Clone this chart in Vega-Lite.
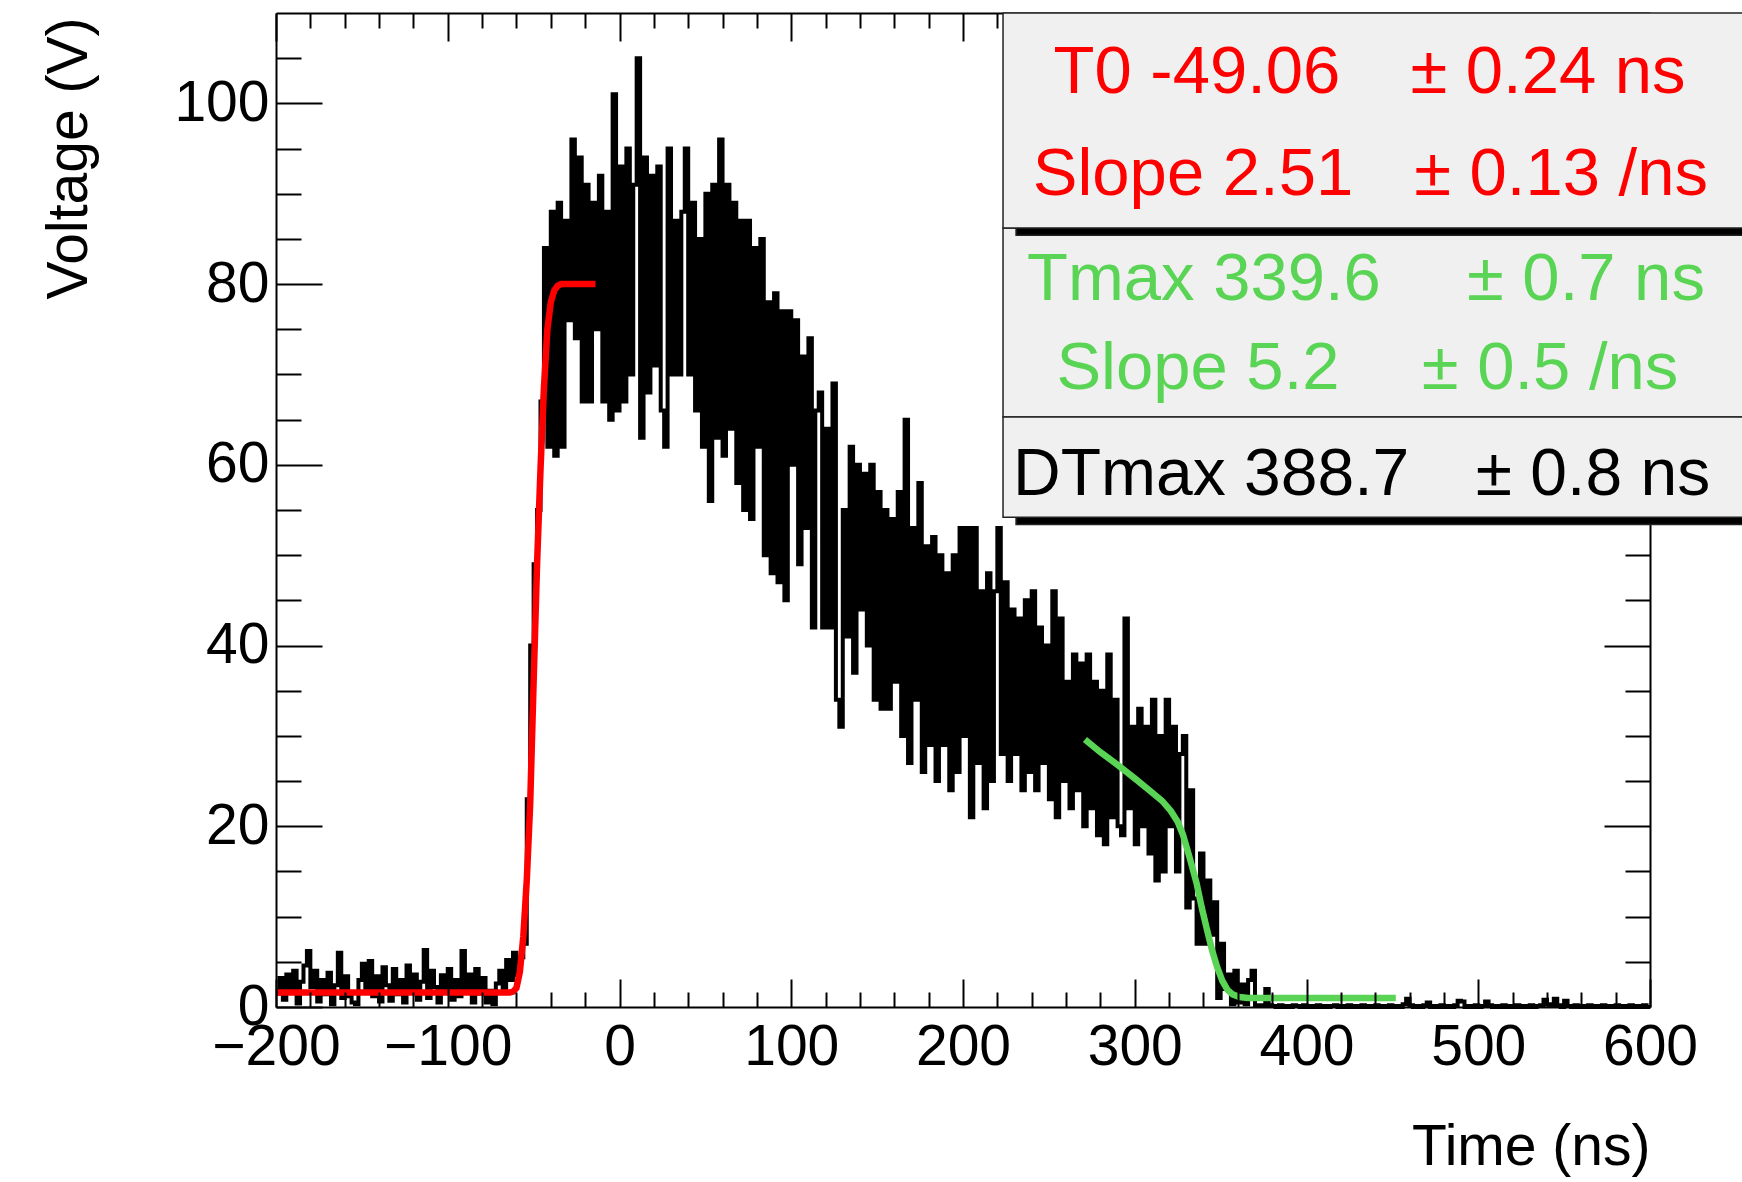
{
  "$schema": "https://vega.github.io/schema/vega-lite/v6.json",
  "width": 1374,
  "height": 994,
  "autosize": {"type": "none"},
  "padding": {"left": 276, "top": 13, "right": 92, "bottom": 175},
  "background": "white",
  "config": {"view": {"stroke": null}, "font": "Liberation Sans"},
  "datasets": {
    "wave": [
      {"t":-200,"v":1.5},{"t":-198,"v":3.2},{"t":-196,"v":0.8},{"t":-194,"v":3.6},{"t":-192,"v":2.0},{"t":-190,"v":4.0},{"t":-188,"v":0.4},{"t":-186,"v":2.8},{"t":-184,"v":4.6},{"t":-182,"v":6.2},
      {"t":-180,"v":2.2},{"t":-178,"v":4.0},{"t":-176,"v":0.6},{"t":-174,"v":3.0},{"t":-172,"v":1.4},{"t":-170,"v":3.8},{"t":-168,"v":0.3},{"t":-166,"v":2.4},{"t":-164,"v":6.0},{"t":-162,"v":1.0},
      {"t":-160,"v":3.4},{"t":-158,"v":1.2},{"t":-156,"v":0.5},{"t":-154,"v":0.3},{"t":-152,"v":3.0},{"t":-150,"v":4.8},{"t":-148,"v":1.8},{"t":-146,"v":5.1},{"t":-144,"v":1.2},{"t":-142,"v":3.4},
      {"t":-140,"v":0.6},{"t":-138,"v":4.4},{"t":-136,"v":2.4},{"t":-134,"v":0.7},{"t":-132,"v":4.2},{"t":-130,"v":1.4},{"t":-128,"v":3.0},{"t":-126,"v":0.5},{"t":-124,"v":4.6},{"t":-122,"v":2.0},
      {"t":-120,"v":3.6},{"t":-118,"v":0.8},{"t":-116,"v":2.8},{"t":-114,"v":6.3},{"t":-112,"v":1.0},{"t":-110,"v":4.0},{"t":-108,"v":2.2},{"t":-106,"v":0.5},{"t":-104,"v":3.5},{"t":-102,"v":1.6},
      {"t":-100,"v":4.2},{"t":-98,"v":0.8},{"t":-96,"v":3.0},{"t":-94,"v":1.2},{"t":-92,"v":6.2},{"t":-90,"v":2.0},{"t":-88,"v":3.6},{"t":-86,"v":0.5},{"t":-84,"v":4.2},{"t":-82,"v":1.5},
      {"t":-80,"v":3.2},{"t":-78,"v":0.5},{"t":-76,"v":1.8},{"t":-74,"v":0.3},{"t":-72,"v":2.6},{"t":-70,"v":4.0},{"t":-68,"v":2.0},{"t":-66,"v":5.2},{"t":-64,"v":3.0},{"t":-62,"v":6.0},
      {"t":-60,"v":3.5},{"t":-58,"v":5.5},{"t":-56,"v":7.0},{"t":-54,"v":23},{"t":-52,"v":40},{"t":-50,"v":49},{"t":-48,"v":55},{"t":-46,"v":67},{"t":-44,"v":84},{"t":-42,"v":62},
      {"t":-40,"v":88},{"t":-38,"v":61},{"t":-36,"v":89},{"t":-34,"v":62},{"t":-32,"v":87},{"t":-30,"v":76},{"t":-28,"v":96},{"t":-26,"v":74},{"t":-24,"v":94},{"t":-22,"v":67},
      {"t":-20,"v":91},{"t":-18,"v":67},{"t":-16,"v":89},{"t":-14,"v":75},{"t":-12,"v":92},{"t":-10,"v":67},{"t":-8,"v":88},{"t":-6,"v":65},{"t":-4,"v":101},{"t":-2,"v":66},
      {"t":0,"v":93},{"t":2,"v":67},{"t":4,"v":95},{"t":6,"v":70},{"t":8,"v":91},{"t":10,"v":105},{"t":12,"v":63},{"t":14,"v":94},{"t":16,"v":68},{"t":18,"v":92},
      {"t":20,"v":71},{"t":22,"v":93},{"t":24,"v":66},{"t":26,"v":62},{"t":28,"v":95},{"t":30,"v":70},{"t":32,"v":87},{"t":34,"v":70},{"t":36,"v":88},{"t":38,"v":95},
      {"t":40,"v":70},{"t":42,"v":89},{"t":44,"v":66},{"t":46,"v":85},{"t":48,"v":62},{"t":50,"v":90},{"t":52,"v":56},{"t":54,"v":91},{"t":56,"v":63},{"t":58,"v":96},
      {"t":60,"v":61},{"t":62,"v":91},{"t":64,"v":64},{"t":66,"v":89},{"t":68,"v":58},{"t":70,"v":87},{"t":72,"v":55},{"t":74,"v":87},{"t":76,"v":54},{"t":78,"v":84},
      {"t":80,"v":62},{"t":82,"v":85},{"t":84,"v":50},{"t":86,"v":78},{"t":88,"v":48},{"t":90,"v":79},{"t":92,"v":47},{"t":94,"v":77},{"t":96,"v":45},{"t":98,"v":77},
      {"t":100,"v":60},{"t":102,"v":76},{"t":104,"v":49},{"t":106,"v":72},{"t":108,"v":53},{"t":110,"v":74},{"t":112,"v":42},{"t":114,"v":66},{"t":116,"v":68},{"t":118,"v":42},
      {"t":120,"v":64},{"t":122,"v":42},{"t":124,"v":69},{"t":126,"v":34},{"t":128,"v":31},{"t":130,"v":55},{"t":132,"v":41},{"t":134,"v":62},{"t":136,"v":37},{"t":138,"v":60},
      {"t":140,"v":44},{"t":142,"v":59},{"t":144,"v":40},{"t":146,"v":60},{"t":148,"v":34},{"t":150,"v":57},{"t":152,"v":33},{"t":154,"v":55},{"t":156,"v":33},{"t":158,"v":54},
      {"t":160,"v":36},{"t":162,"v":57},{"t":164,"v":30},{"t":166,"v":65},{"t":168,"v":27},{"t":170,"v":53},{"t":172,"v":34},{"t":174,"v":58},{"t":176,"v":26},{"t":178,"v":51},
      {"t":180,"v":29},{"t":182,"v":52},{"t":184,"v":25},{"t":186,"v":50},{"t":188,"v":29},{"t":190,"v":48},{"t":192,"v":24},{"t":194,"v":50},{"t":196,"v":26},{"t":198,"v":53},
      {"t":200,"v":30},{"t":202,"v":53},{"t":204,"v":21},{"t":206,"v":53},{"t":208,"v":27},{"t":210,"v":46},{"t":212,"v":22},{"t":214,"v":48},{"t":216,"v":25},{"t":218,"v":46},
      {"t":220,"v":53},{"t":222,"v":28},{"t":224,"v":47},{"t":226,"v":25},{"t":228,"v":44},{"t":230,"v":28},{"t":232,"v":43},{"t":234,"v":24},{"t":236,"v":45},{"t":238,"v":26},
      {"t":240,"v":46},{"t":242,"v":24},{"t":244,"v":42},{"t":246,"v":27},{"t":248,"v":40},{"t":250,"v":23},{"t":252,"v":46},{"t":254,"v":21},{"t":256,"v":43},{"t":258,"v":25},
      {"t":260,"v":36},{"t":262,"v":22},{"t":264,"v":39},{"t":266,"v":24},{"t":268,"v":38},{"t":270,"v":20},{"t":272,"v":39},{"t":274,"v":22},{"t":276,"v":36},{"t":278,"v":19},
      {"t":280,"v":35},{"t":282,"v":18},{"t":284,"v":39},{"t":286,"v":21},{"t":288,"v":34},{"t":290,"v":20},{"t":292,"v":19},{"t":294,"v":43},{"t":296,"v":22},{"t":298,"v":31},
      {"t":300,"v":18},{"t":302,"v":33},{"t":304,"v":20},{"t":306,"v":31},{"t":308,"v":17},{"t":310,"v":34},{"t":312,"v":14},{"t":314,"v":30},{"t":316,"v":15},{"t":318,"v":34},
      {"t":320,"v":20},{"t":322,"v":31},{"t":324,"v":15},{"t":326,"v":28},{"t":328,"v":30},{"t":330,"v":11},{"t":332,"v":24},{"t":334,"v":12},{"t":336,"v":7},{"t":338,"v":17},
      {"t":340,"v":7},{"t":342,"v":14},{"t":344,"v":8},{"t":346,"v":11.6},{"t":348,"v":1},{"t":350,"v":7},{"t":352,"v":2},{"t":354,"v":3.6},{"t":356,"v":0.3},{"t":358,"v":4},
      {"t":360,"v":0.5},{"t":362,"v":2.5},{"t":364,"v":0.3},{"t":366,"v":3},{"t":368,"v":4},{"t":370,"v":0.2},{"t":372,"v":0.1},{"t":374,"v":0.2},{"t":376,"v":2},{"t":378,"v":0.2},
      {"t":380,"v":0.1},{"t":382,"v":0},{"t":384,"v":0.2},{"t":386,"v":0},{"t":388,"v":0.1},{"t":390,"v":0},{"t":392,"v":0.2},{"t":394,"v":0.1},{"t":396,"v":0},{"t":398,"v":0.2},
      {"t":400,"v":0},{"t":402,"v":0.1},{"t":404,"v":0},{"t":406,"v":0.2},{"t":408,"v":0},{"t":410,"v":0.1},{"t":412,"v":0},{"t":414,"v":0.1},{"t":416,"v":0.2},{"t":418,"v":0},
      {"t":420,"v":0.1},{"t":422,"v":0},{"t":424,"v":0.2},{"t":426,"v":0},{"t":428,"v":0.1},{"t":430,"v":0},{"t":432,"v":0.2},{"t":434,"v":0},{"t":436,"v":0.1},{"t":438,"v":0},
      {"t":440,"v":0.2},{"t":442,"v":0},{"t":444,"v":0.1},{"t":446,"v":0},{"t":448,"v":0.2},{"t":450,"v":0},{"t":452,"v":0.1},{"t":454,"v":0},{"t":456,"v":0.3},{"t":458,"v":0.9},
      {"t":460,"v":0.2},{"t":462,"v":0},{"t":464,"v":0.1},{"t":466,"v":0},{"t":468,"v":0.2},{"t":470,"v":0.5},{"t":472,"v":0},{"t":474,"v":0.1},{"t":476,"v":0},{"t":478,"v":0.2},
      {"t":480,"v":0},{"t":482,"v":0.1},{"t":484,"v":0},{"t":486,"v":0.2},{"t":488,"v":0.7},{"t":490,"v":0.6},{"t":492,"v":0},{"t":494,"v":0.1},{"t":496,"v":0},{"t":498,"v":0.2},
      {"t":500,"v":0},{"t":502,"v":0.1},{"t":504,"v":0.6},{"t":506,"v":0.2},{"t":508,"v":0},{"t":510,"v":0.1},{"t":512,"v":0},{"t":514,"v":0.2},{"t":516,"v":0},{"t":518,"v":0.1},
      {"t":520,"v":0},{"t":522,"v":0.2},{"t":524,"v":0},{"t":526,"v":0.1},{"t":528,"v":0},{"t":530,"v":0.2},{"t":532,"v":0},{"t":534,"v":0.1},{"t":536,"v":0.2},{"t":538,"v":0.8},
      {"t":540,"v":0.3},{"t":542,"v":0.1},{"t":544,"v":0.9},{"t":546,"v":0.2},{"t":548,"v":0},{"t":550,"v":0.7},{"t":552,"v":0.1},{"t":554,"v":0},{"t":556,"v":0.2},{"t":558,"v":0},
      {"t":560,"v":0.1},{"t":562,"v":0},{"t":564,"v":0.2},{"t":566,"v":0},{"t":568,"v":0.1},{"t":570,"v":0},{"t":572,"v":0.2},{"t":574,"v":0},{"t":576,"v":0.1},{"t":578,"v":0},
      {"t":580,"v":0.2},{"t":582,"v":0},{"t":584,"v":0.1},{"t":586,"v":0},{"t":588,"v":0.2},{"t":590,"v":0},{"t":592,"v":0.1},{"t":594,"v":0},{"t":596,"v":0.2},{"t":598,"v":0},{"t":600,"v":0}
    ],
    "fitr": [
      {"t":-200,"v":1.6},{"t":-64,"v":1.6},{"t":-62,"v":1.7},{"t":-60,"v":2.1},{"t":-58,"v":3.9},{"t":-56,"v":7.8},{"t":-54,"v":14},{"t":-52,"v":22.5},{"t":-50,"v":36},{"t":-48,"v":49},{"t":-46,"v":59.5},{"t":-44,"v":68.5},{"t":-42,"v":75},{"t":-40,"v":78},{"t":-38,"v":79.3},{"t":-36,"v":79.8},{"t":-34,"v":80},{"t":-14,"v":80}
    ],
    "fitg": [
      {"t":271,"v":29.6},{"t":280,"v":28.2},{"t":290,"v":26.8},{"t":300,"v":25.3},{"t":309,"v":23.9},{"t":316,"v":22.8},{"t":321,"v":21.7},{"t":325,"v":20.5},{"t":328,"v":19.1},{"t":332,"v":16.5},{"t":336,"v":13.7},{"t":339,"v":11},{"t":342,"v":8.6},{"t":345,"v":6.3},{"t":348,"v":4.4},{"t":351,"v":2.9},{"t":354,"v":1.9},{"t":357,"v":1.4},{"t":361,"v":1.1},{"t":366,"v":1.0},{"t":452,"v":1.0}
    ],
    "boxes": [
      {"part":"box","t1":223.3,"t2":664,"v1":86.2,"v2":65.3},
      {"part":"shadow","t1":230.9,"t2":672,"v1":109.2,"v2":85.4},
      {"part":"box","t1":223.3,"t2":664,"v1":110,"v2":86.2},
      {"part":"shadow","t1":230.9,"t2":672,"v1":64.5,"v2":53.4},
      {"part":"box","t1":223.3,"t2":664,"v1":65.3,"v2":54.2}
    ],
    "texts": [
      {"txt":"T0 -49.06","t":336.2,"v":101.1,"grp":"r"},
      {"txt":"± 0.24 ns","t":540.6,"v":101.1,"grp":"r"},
      {"txt":"Slope 2.51","t":333.9,"v":89.9,"grp":"r"},
      {"txt":"± 0.13 /ns","t":548.2,"v":89.9,"grp":"r"},
      {"txt":"Tmax 339.6","t":340.3,"v":78.2,"grp":"g"},
      {"txt":"± 0.7 ns","t":562.7,"v":78.2,"grp":"g"},
      {"txt":"Slope 5.2","t":336.8,"v":68.4,"grp":"g"},
      {"txt":"± 0.5 /ns","t":541.8,"v":68.4,"grp":"g"},
      {"txt":"DTmax 388.7","t":344.5,"v":56.7,"grp":"k"},
      {"txt":"± 0.8 ns","t":566.8,"v":56.7,"grp":"k"}
    ]
  },
  "layer": [
    {
      "data": {"name": "wave"},
      "mark": {"type": "line", "interpolate": "step-after", "color": "black", "strokeWidth": 4},
      "encoding": {
        "x": {
          "field": "t", "type": "quantitative",
          "scale": {"domain": [-200, 600], "nice": false, "zero": false},
          "axis": {
            "orient": "bottom", "zindex": 1,
            "values": [-200,-180,-160,-140,-120,-100,-80,-60,-40,-20,0,20,40,60,80,100,120,140,160,180,200,220,240,260,280,300,320,340,360,380,400,420,440,460,480,500,520,540,560,580,600],
            "labelExpr": "datum.value % 100 === 0 ? datum.label : ''",
            "labelFont": "Liberation Sans", "labelFontSize": 57, "labelColor": "black",
            "labelPadding": 40, "labelFlush": false, "labelOverlap": false, "labelBound": false,
            "tickSize": {"condition": {"test": "datum.value % 100 === 0", "value": -28}, "value": -15},
            "tickColor": "black", "tickWidth": 2,
            "domainColor": "black", "domainWidth": 2, "grid": false,
            "title": "Time (ns)", "titleFont": "Liberation Sans", "titleFontSize": 57, "titleFontWeight": "normal", "titleColor": "black",
            "titleAlign": "right", "titleAnchor": "end", "titleBaseline": "alphabetic", "titleX": 1374, "titleY": 157
          }
        },
        "y": {
          "field": "v", "type": "quantitative",
          "scale": {"domain": [0, 110], "nice": false, "zero": false},
          "axis": {
            "orient": "left", "zindex": 1,
            "values": [0,5,10,15,20,25,30,35,40,45,50,55,60,65,70,75,80,85,90,95,100,105],
            "labelExpr": "datum.value % 20 === 0 ? datum.label : ''",
            "labelFont": "Liberation Sans", "labelFontSize": 57, "labelColor": "black",
            "labelPadding": 53, "labelFlush": false, "labelOverlap": false, "labelBound": false,
            "tickSize": {"condition": {"test": "datum.value % 20 === 0", "value": -46}, "value": -25},
            "tickColor": "black", "tickWidth": 2,
            "domainColor": "black", "domainWidth": 2, "grid": false,
            "title": "Voltage (V)", "titleFont": "Liberation Sans", "titleFontSize": 57, "titleFontWeight": "normal", "titleColor": "black",
            "titleAngle": 270, "titleAlign": "right", "titleAnchor": "end", "titleBaseline": "alphabetic", "titleX": -190, "titleY": 4
          }
        }
      }
    },
    {
      "data": {"name": "fitr"},
      "mark": {"type": "line", "color": "#ff0000", "strokeWidth": 6.5},
      "encoding": {
        "x": {
          "field": "t", "type": "quantitative",
          "axis": {
            "orient": "top", "zindex": 0,
            "values": [-200,-180,-160,-140,-120,-100,-80,-60,-40,-20,0,20,40,60,80,100,120,140,160,180,200,220,240,260,280,300,320,340,360,380,400,420,440,460,480,500,520,540,560,580,600],
            "labels": false,
            "tickSize": {"condition": {"test": "datum.value % 100 === 0", "value": -28}, "value": -15},
            "tickColor": "black", "tickWidth": 2,
            "domainColor": "black", "domainWidth": 2, "grid": false, "title": null
          }
        },
        "y": {
          "field": "v", "type": "quantitative",
          "axis": {
            "orient": "right", "zindex": 0,
            "values": [0,5,10,15,20,25,30,35,40,45,50,55,60,65,70,75,80,85,90,95,100,105],
            "labels": false,
            "tickSize": {"condition": {"test": "datum.value % 20 === 0", "value": -46}, "value": -25},
            "tickColor": "black", "tickWidth": 2,
            "domainColor": "black", "domainWidth": 2, "grid": false, "title": null
          }
        }
      }
    },
    {
      "data": {"name": "fitg"},
      "mark": {"type": "line", "color": "#59d454", "strokeWidth": 6.5},
      "encoding": {
        "x": {"field": "t", "type": "quantitative", "axis": null},
        "y": {"field": "v", "type": "quantitative", "axis": null}
      }
    },
    {
      "data": {"name": "boxes"},
      "mark": {"type": "rect", "stroke": "#222222", "strokeWidth": 1.5},
      "encoding": {
        "x": {"field": "t1", "type": "quantitative", "axis": null},
        "x2": {"field": "t2"},
        "y": {"field": "v1", "type": "quantitative", "axis": null},
        "y2": {"field": "v2"},
        "fill": {"field": "part", "type": "nominal", "scale": {"domain": ["box", "shadow"], "range": ["#f0f0f0", "#000000"]}, "legend": null}
      }
    },
    {
      "data": {"name": "texts"},
      "transform": [{"filter": "datum.grp === 'r'"}],
      "mark": {"type": "text", "color": "#ff0000", "font": "Liberation Sans", "fontSize": 67, "align": "center", "baseline": "alphabetic"},
      "encoding": {
        "x": {"field": "t", "type": "quantitative", "axis": null},
        "y": {"field": "v", "type": "quantitative", "axis": null},
        "text": {"field": "txt"}
      }
    },
    {
      "data": {"name": "texts"},
      "transform": [{"filter": "datum.grp === 'g'"}],
      "mark": {"type": "text", "color": "#59d454", "font": "Liberation Sans", "fontSize": 67, "align": "center", "baseline": "alphabetic"},
      "encoding": {
        "x": {"field": "t", "type": "quantitative", "axis": null},
        "y": {"field": "v", "type": "quantitative", "axis": null},
        "text": {"field": "txt"}
      }
    },
    {
      "data": {"name": "texts"},
      "transform": [{"filter": "datum.grp === 'k'"}],
      "mark": {"type": "text", "color": "#000000", "font": "Liberation Sans", "fontSize": 66, "align": "center", "baseline": "alphabetic"},
      "encoding": {
        "x": {"field": "t", "type": "quantitative", "axis": null},
        "y": {"field": "v", "type": "quantitative", "axis": null},
        "text": {"field": "txt"}
      }
    }
  ],
  "resolve": {"axis": {"x": "independent", "y": "independent"}}
}
